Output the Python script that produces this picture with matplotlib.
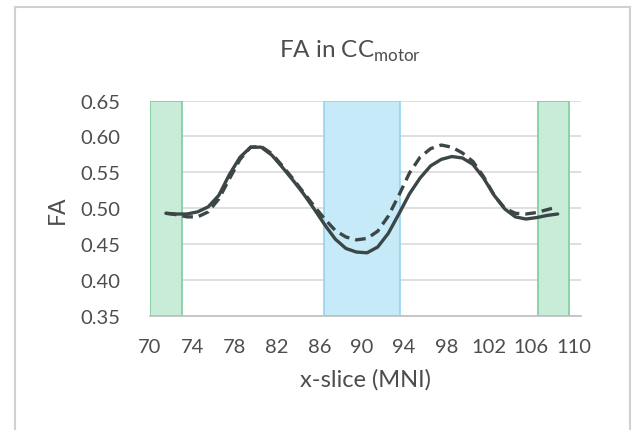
import numpy as np
import matplotlib
matplotlib.use('Agg')
import matplotlib.pyplot as plt
from matplotlib.patches import Rectangle

# x-slice positions (MNI) and the two FA profiles
slices = [71.5, 72.5, 73.5, 74.5, 75.5, 76.5, 77.5, 78.5, 79.5, 80.5,
          81.5, 82.5, 83.5, 84.5, 85.5, 86.5, 87.5, 88.5, 89.5, 90.5,
          91.5, 92.5, 93.5, 94.5, 95.5, 96.5, 97.5, 98.5, 99.5, 100.5,
          101.5, 102.5, 103.5, 104.5, 105.5, 106.5, 107.5, 108.5]
fa_solid = [0.493, 0.492, 0.492, 0.495, 0.502, 0.518, 0.547, 0.571, 0.585, 0.585,
            0.574, 0.557, 0.539, 0.520, 0.499, 0.477, 0.457, 0.444, 0.439, 0.438,
            0.446, 0.465, 0.492, 0.520, 0.542, 0.559, 0.568, 0.572, 0.570, 0.561,
            0.542, 0.518, 0.499, 0.488, 0.485, 0.487, 0.490, 0.492]
fa_dashed = [0.493, 0.491, 0.488, 0.488, 0.495, 0.513, 0.541, 0.568, 0.585, 0.586,
             0.576, 0.559, 0.541, 0.522, 0.503, 0.485, 0.469, 0.460, 0.456, 0.458,
             0.468, 0.489, 0.518, 0.549, 0.571, 0.583, 0.588, 0.585, 0.577, 0.565,
             0.544, 0.518, 0.500, 0.493, 0.492, 0.494, 0.498, 0.502]

# shaded slice ranges
green_bands = [(70.0, 73.0), (106.6, 109.6)]
blue_band = (86.4, 93.6)

x_ticks = [70, 74, 78, 82, 86, 90, 94, 98, 102, 106, 110]
y_ticks = [0.35, 0.40, 0.45, 0.50, 0.55, 0.60, 0.65]

plt.rcParams['font.family'] = ['Lato', 'DejaVu Sans']
plt.rcParams['mathtext.fontset'] = 'custom'
plt.rcParams['mathtext.rm'] = 'Lato'
txt_col = '#4d4d4d'

fig = plt.figure(figsize=(6.33, 4.31), dpi=100)
ax = fig.add_axes([150 / 633, 1 - 317 / 431, 431 / 633, 215.5 / 431])

# chart area frame
fig.patches.append(Rectangle((15 / 633, -0.05), 615 / 633, 1 - 8 / 431 + 0.05,
                             transform=fig.transFigure, fill=False,
                             edgecolor='#d0d0d0', linewidth=1.5))

for a, b in green_bands:
    ax.axvspan(a, b, facecolor='#c8ecd8', edgecolor='#7fcc9f', linewidth=1.2, zorder=1)
ax.axvspan(blue_band[0], blue_band[1], facecolor='#c6eaf8', edgecolor='#93d5ef',
           linewidth=1.2, zorder=1)

ax.plot(slices, fa_solid, color='#3d4646', linewidth=2.4, zorder=4,
        solid_joinstyle='round', solid_capstyle='round')
ax.plot(slices, fa_dashed, color='#3d4646', linewidth=2.4, zorder=3,
        dashes=(3.2, 1.8))

ax.set_xlim(70, 110.7)
ax.set_ylim(0.35, 0.65)
ax.set_xticks(x_ticks)
ax.set_yticks(y_ticks)
ax.set_yticklabels(['%.2f' % v for v in y_ticks])
ax.yaxis.grid(True, color='#d9d9d9', linewidth=1.2, zorder=0)
ax.set_axisbelow(True)
for s in ['left', 'right', 'top']:
    ax.spines[s].set_visible(False)
ax.spines['bottom'].set_color('#bfbfbf')
ax.spines['bottom'].set_linewidth(1.2)
ax.tick_params(axis='both', length=0, labelsize=14.5, colors=txt_col)
ax.tick_params(axis='y', pad=21)
ax.tick_params(axis='x', pad=15.5)

ax.set_xlabel('x-slice (MNI)', fontsize=17, color=txt_col, labelpad=10)
ax.set_ylabel('FA', fontsize=16.5, color=txt_col, labelpad=9)

fig.text(350 / 633, 1 - 58 / 431, r'FA in CC$_{\mathrm{motor}}$', fontsize=17.5,
         color=txt_col, ha='center', va='baseline')

plt.savefig('out.png', dpi=100)
plt.close()
